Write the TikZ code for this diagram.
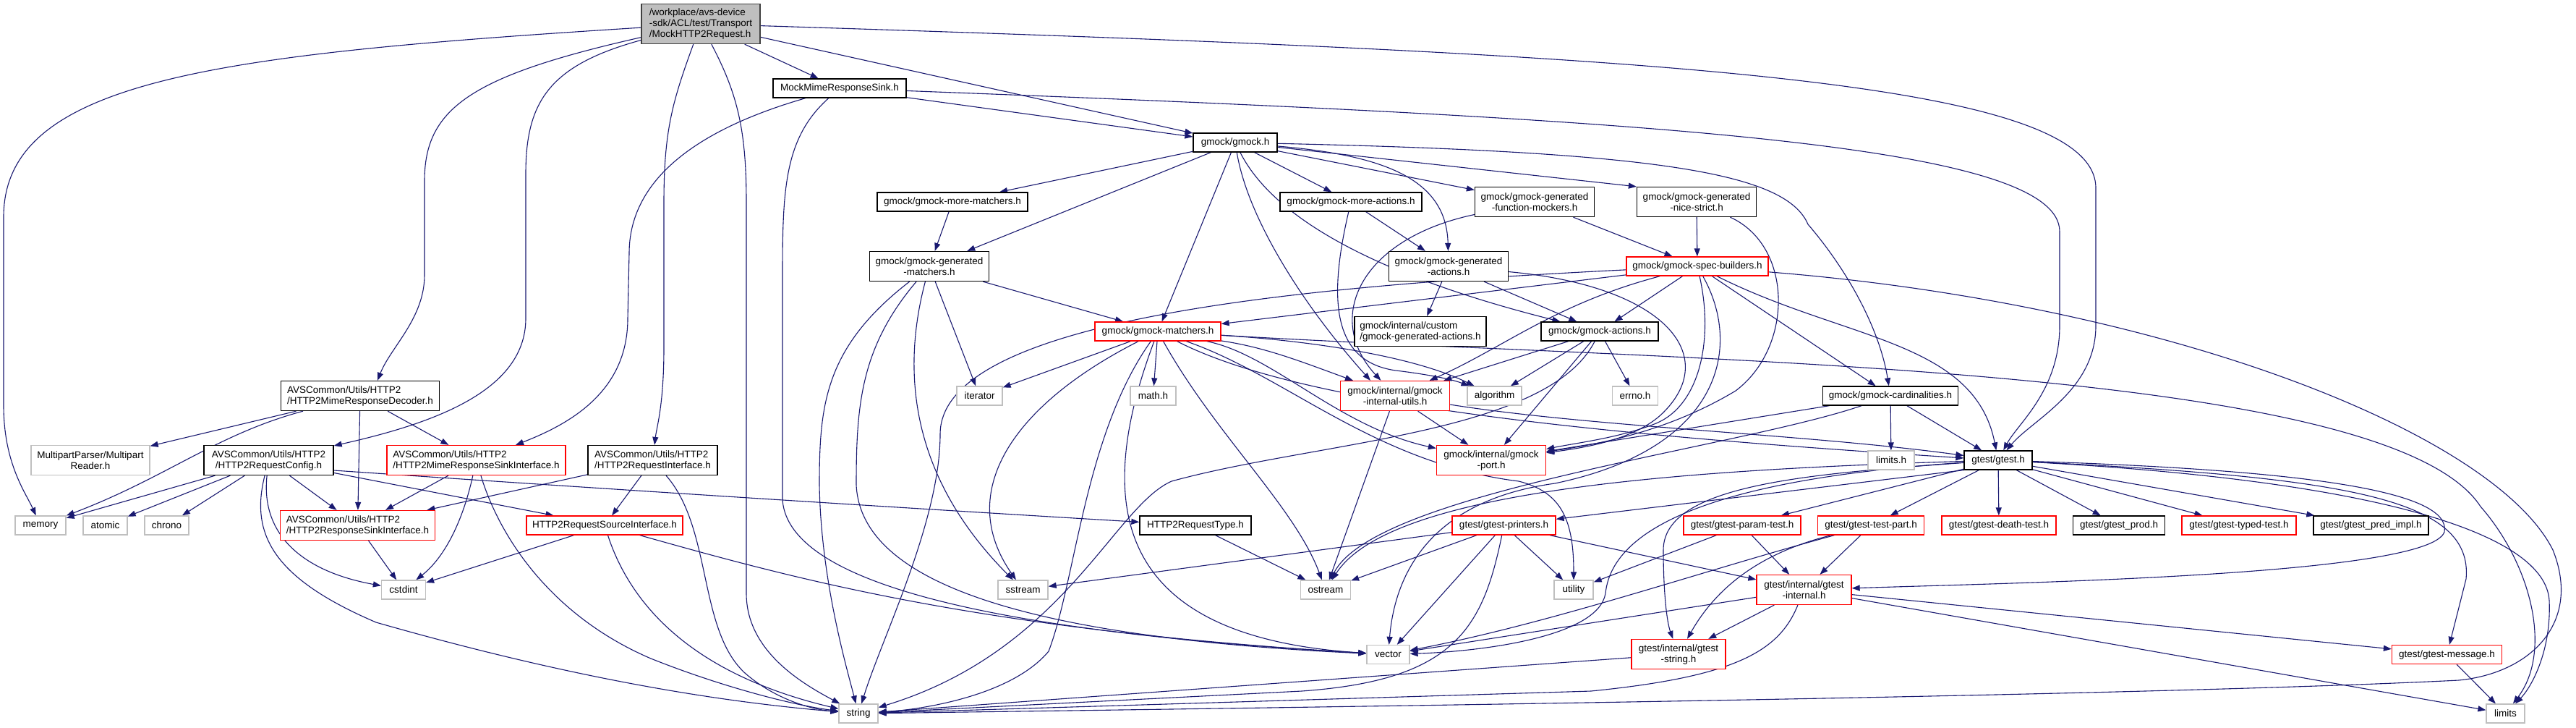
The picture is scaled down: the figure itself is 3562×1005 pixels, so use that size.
\documentclass[tikz,border=0pt]{standalone}
\usepackage{fontspec}
\setmainfont{Liberation Sans}
\usetikzlibrary{arrows.meta, positioning, backgrounds}
\definecolor{EdgeBlue}{RGB}{25,25,112}
\definecolor{RootGrey}{RGB}{191,191,191}
\definecolor{SysGrey}{RGB}{191,191,191}

\begin{document}
\begin{tikzpicture}[x=1pt, y=-1pt,
    hdr/.style={draw=black, fill=white, line width=1.3pt, align=center,
                font=\fontsize{13.5}{15}\selectfont, inner xsep=5pt, inner ysep=2pt,
                minimum height=26pt, minimum width=#1},
    hdr/.default=50pt,
    redhdr/.style={hdr=#1, draw=red},
    redhdr/.default=50pt,
    syshdr/.style={hdr=#1, draw=SysGrey},
    syshdr/.default=50pt,
    two/.style={minimum height=41pt},
    rootbox/.style={hdr=164pt, fill=RootGrey, draw=black!75, minimum height=55pt, align=left},
    dep/.style={draw=EdgeBlue, line width=1.1pt, -{Triangle[length=11pt,width=8pt]}}
  ]
  \useasboundingbox (0,0) rectangle (3562,1005);

  % headers, top to bottom
  \node[rootbox] (root) at (969,33) {/workplace/avs-device\\-sdk/ACL/test/Transport\\/MockHTTP2Request.h};
  \node[hdr=184pt] (sink) at (1161,122) {MockMimeResponseSink.h};
  \node[hdr=116pt] (gmock) at (1708,197) {gmock/gmock.h};
  \node[hdr=208pt] (moremat) at (1317,279) {gmock/gmock-more-matchers.h};
  \node[hdr=196pt] (moreact) at (1868,279) {gmock/gmock-more-actions.h};
  \node[hdr=165pt, two] (funcmock) at (2122,279) {gmock/gmock-generated\\-function-mockers.h};
  \node[hdr=165pt, two] (nicestrict) at (2346,279) {gmock/gmock-generated\\-nice-strict.h};
  \node[hdr=165pt, two] (genmat) at (1285,368) {gmock/gmock-generated\\-matchers.h};
  \node[hdr=165pt, two] (genact) at (2003,368) {gmock/gmock-generated\\-actions.h};
  \node[redhdr=196pt] (spec) at (2347,368) {gmock/gmock-spec-builders.h};
  \node[redhdr=174pt] (matchers) at (1601,458) {gmock/gmock-matchers.h};
  \node[hdr=182pt, two, align=left] (custom) at (1964,458) {gmock/internal/custom\\/gmock-generated-actions.h};
  \node[hdr=162pt] (actions) at (2212,458) {gmock/gmock-actions.h};
  \node[hdr=219pt, two, align=left] (decoder) at (498,547) {AVSCommon/Utils/HTTP2\\/HTTP2MimeResponseDecoder.h};
  \node[syshdr=63pt] (iterator) at (1354.5,547) {iterator};
  \node[syshdr=63pt] (mathh) at (1594.5,547) {math.h};
  \node[redhdr=151pt, two] (intutils) at (1929,547) {gmock/internal/gmock\\-internal-utils.h};
  \node[syshdr=75pt] (algorithm) at (2066.5,547) {algorithm};
  \node[syshdr=63pt] (errno) at (2261,547) {errno.h};
  \node[hdr=187pt] (card) at (2614,547) {gmock/gmock-cardinalities.h};
  \node[syshdr=164pt, two] (multipart) at (125,636) {MultipartParser/Multipart\\Reader.h};
  \node[hdr=179pt, two] (reqconfig) at (371.5,636) {AVSCommon/Utils/HTTP2\\/HTTP2RequestConfig.h};
  \node[redhdr=247pt, two, align=left] (mimesink) at (658.5,636) {AVSCommon/Utils/HTTP2\\/HTTP2MimeResponseSinkInterface.h};
  \node[hdr=179pt, two, align=left] (reqiface) at (902.5,636) {AVSCommon/Utils/HTTP2\\/HTTP2RequestInterface.h};
  \node[redhdr=151pt, two] (port) at (2062,636) {gmock/internal/gmock\\-port.h};
  \node[syshdr=64pt] (limitsh) at (2615,636) {limits.h};
  \node[hdr=94pt] (gtest) at (2763,636) {gtest/gtest.h};
  \node[syshdr=70pt] (memory) at (56,726) {memory};
  \node[syshdr=61pt] (atomic) at (145.5,726) {atomic};
  \node[syshdr=61pt] (chrono) at (230.5,726) {chrono};
  \node[redhdr=214pt, two, align=left] (respsink) at (494.5,726) {AVSCommon/Utils/HTTP2\\/HTTP2ResponseSinkInterface.h};
  \node[redhdr=216pt] (srciface) at (836,726) {HTTP2RequestSourceInterface.h};
  \node[hdr=154pt] (reqtype) at (1653,726) {HTTP2RequestType.h};
  \node[redhdr=143pt] (printers) at (2079.5,726) {gtest/gtest-printers.h};
  \node[redhdr=162pt] (paramtest) at (2409,726) {gtest/gtest-param-test.h};
  \node[redhdr=147pt] (testpart) at (2587,726) {gtest/gtest-test-part.h};
  \node[redhdr=158pt] (deathtest) at (2764,726) {gtest/gtest-death-test.h};
  \node[hdr=127pt] (prod) at (2930,726) {gtest/gtest\_prod.h};
  \node[redhdr=158pt] (typedtest) at (3096,726) {gtest/gtest-typed-test.h};
  \node[hdr=159pt] (predimpl) at (3278.5,726) {gtest/gtest\_pred\_impl.h};
  \node[syshdr=61pt] (cstdint) at (558,815) {cstdint};
  \node[syshdr=69pt] (sstream) at (1414.5,815) {sstream};
  \node[syshdr=69pt] (ostream) at (1833,815) {ostream};
  \node[syshdr=54pt] (utility) at (2176,815) {utility};
  \node[redhdr=131pt, two] (gtinternal) at (2494.5,815) {gtest/internal/gtest\\-internal.h};
  \node[syshdr=59pt] (vector) at (1919.5,904.5) {vector};
  \node[redhdr=130pt, two] (gtstring) at (2321,904) {gtest/internal/gtest\\-string.h};
  \node[redhdr=152pt] (message) at (3383.5,904.5) {gtest/gtest-message.h};
  \node[syshdr=54pt] (string) at (1187,986) {string};
  \node[syshdr=53pt] (limits) at (3464.5,986) {limits};

  \begin{scope}[on background layer]
  % MockHTTP2Request.h
  \draw[dep] (root) .. controls (300,75) and (5,110) .. (5,300) -- (5,560) .. controls (5,640) and (35,680) .. (memory);
  \draw[dep] (root) .. controls (650,105) and (587,150) .. (587,250) -- (587,380) .. controls (587,440) and (540,480) .. ([xshift=24pt]decoder.north);
  \draw[dep] (root) .. controls (760,90) and (727,140) .. (727,240) -- (727,440) .. controls (727,540) and (600,585) .. (reqconfig);
  \draw[dep] (root) .. controls (930,140) and (918,180) .. (918,280) -- (918,480) .. controls (918,560) and (908,590) .. (reqiface);
  \draw[dep] (root) .. controls (1020,130) and (1032,180) .. (1032,280) -- (1032,820) .. controls (1032,900) and (1110,945) .. (string);
  \draw[dep] (root) -- (sink);
  \draw[dep] (root) -- (gmock);
  \draw[dep] (root) .. controls (2300,75) and (2898,110) .. (2898,260) -- (2898,450) .. controls (2898,540) and (2810,580) .. (gtest);

  % MockMimeResponseSink.h
  \draw[dep] (sink) .. controls (960,180) and (870,250) .. (870,350) -- (868,440) .. controls (868,540) and (790,585) .. (mimesink);
  \draw[dep] (sink) .. controls (1085,190) and (1082,260) .. (1082,380) -- (1082,690) .. controls (1090,830) and (1500,880) .. (vector);
  \draw[dep] (sink) -- (gmock);
  \draw[dep] (sink) .. controls (2300,165) and (2848,200) .. (2848,320) -- (2848,450) .. controls (2848,540) and (2790,585) .. (gtest);

  % AVSCommon headers
  \draw[dep] (decoder) -- (multipart);
  \draw[dep] (decoder) .. controls (300,600) and (230,660) .. (memory);
  \draw[dep] (decoder) -- (mimesink);
  \draw[dep] (decoder) -- (respsink);
  \draw[dep] (reqconfig) -- (memory);
  \draw[dep] (reqconfig) -- (atomic);
  \draw[dep] (reqconfig) -- (chrono);
  \draw[dep] (reqconfig) .. controls (360,740) and (420,790) .. (cstdint);
  \draw[dep] (reqconfig) .. controls (345,740) and (380,800) .. (520,860) .. controls (800,940) and (1000,970) .. (string);
  \draw[dep] (reqconfig) -- (respsink);
  \draw[dep] (reqconfig) -- (srciface);
  \draw[dep] ([yshift=-14pt]reqconfig.east) .. controls (900,680) and (1300,705) .. (reqtype);
  \draw[dep] (mimesink) -- (respsink);
  \draw[dep] (mimesink) .. controls (640,720) and (615,770) .. (cstdint);
  \draw[dep] (mimesink) .. controls (690,740) and (760,850) .. (900,910) .. controls (1000,950) and (1100,975) .. (string);
  \draw[dep] (reqiface) -- (respsink);
  \draw[dep] (reqiface) -- (srciface);
  \draw[dep] (reqiface) .. controls (985,730) and (965,870) .. (1030,930) .. controls (1070,965) and (1120,980) .. (string);
  \draw[dep] (respsink) -- (cstdint);
  \draw[dep] (srciface) -- (cstdint);
  \draw[dep] (srciface) .. controls (870,830) and (950,930) .. (string);
  \draw[dep] (srciface) .. controls (1100,800) and (1350,870) .. (vector);
  \draw[dep] (reqtype) -- (ostream);

  % gmock/gmock.h
  \draw[dep] (gmock) -- (moremat);
  \draw[dep] (gmock) -- (genmat);
  \draw[dep] (gmock) -- (matchers);
  \draw[dep] (gmock) .. controls (1725,300) and (1800,420) .. ([xshift=-34pt]intutils.north);
  \draw[dep] (gmock) .. controls (1760,300) and (1900,380) .. (actions);
  \draw[dep] (gmock) -- (moreact);
  \draw[dep] (gmock) -- (funcmock);
  \draw[dep] (gmock) -- (nicestrict.north west);
  \draw[dep] (gmock) .. controls (1920,215) and (2000,250) .. (genact);
  \draw[dep] (gmock) .. controls (2300,210) and (2470,240) .. (2500,310) .. controls (2560,380) and (2600,460) .. (card);

  % gmock internals
  \draw[dep] (moremat) -- (genmat);
  \draw[dep] (genmat) -- (matchers);
  \draw[dep] (genmat) -- (iterator);
  \draw[dep] (genmat) .. controls (1250,500) and (1250,650) .. (sstream);
  \draw[dep] (genmat) .. controls (1140,480) and (1133,560) .. (1133,670) .. controls (1135,800) and (1170,920) .. (string);
  \draw[dep] (genmat) .. controls (1190,480) and (1184,560) .. (1184,670) .. controls (1190,800) and (1400,880) .. (vector);
  \draw[dep] (moreact) -- (genact);
  \draw[dep] (moreact) .. controls (1835,420) and (1845,500) .. (1930,512) .. controls (1980,518) and (2010,525) .. (algorithm);
  \draw[dep] (funcmock) -- (spec);
  \draw[dep] (funcmock) .. controls (1880,330) and (1830,440) .. (intutils);
  \draw[dep] (nicestrict) -- (spec);
  \draw[dep] (nicestrict) .. controls (2480,340) and (2480,480) .. (2400,540) .. controls (2300,600) and (2200,615) .. (port);
  \draw[dep] (genact) -- (custom);
  \draw[dep] (genact) -- (actions);
  \draw[dep] (genact) .. controls (2300,395) and (2380,490) .. (2300,570) .. controls (2260,610) and (2180,620) .. (port);
  \draw[dep] (spec) -- (matchers);
  \draw[dep] (spec) .. controls (1800,395) and (1300,440) .. (1300,600) .. controls (1300,720) and (1220,880) .. (string);
  \draw[dep] (spec) .. controls (2150,420) and (2080,480) .. (intutils);
  \draw[dep] (spec) -- (actions);
  \draw[dep] (spec) .. controls (2370,470) and (2350,560) .. (2290,585) .. controls (2240,605) and (2180,612) .. (port);
  \draw[dep] (spec) .. controls (2410,480) and (2380,620) .. (2150,668) .. controls (1990,690) and (1930,780) .. (vector);
  \draw[dep] (spec) -- (card);
  \draw[dep] (spec) .. controls (2550,470) and (2730,470) .. (gtest);
  \draw[dep] (spec) .. controls (3000,420) and (3450,600) .. (3530,760) .. controls (3570,860) and (3500,930) .. (3400,940) .. controls (3000,960) and (2000,975) .. (string);
  \draw[dep] (matchers) -- (iterator);
  \draw[dep] (matchers) -- (mathh);
  \draw[dep] (matchers) .. controls (1800,470) and (1950,490) .. (algorithm);
  \draw[dep] (matchers) .. controls (1750,480) and (1800,500) .. (intutils);
  \draw[dep] (matchers) .. controls (1760,490) and (1850,590) .. (port);
  \draw[dep] (matchers) .. controls (1800,560) and (2200,600) .. (gtest);
  \draw[dep] (matchers) .. controls (1400,560) and (1320,680) .. (sstream);
  \draw[dep] (matchers) .. controls (1500,600) and (1488,800) .. (1450,900) .. controls (1400,960) and (1280,980) .. (string);
  \draw[dep] (matchers) .. controls (1510,700) and (1540,880) .. (vector);
  \draw[dep] (matchers) .. controls (1680,600) and (1790,700) .. (ostream);
  \draw[dep] (matchers) .. controls (1780,520) and (1900,640) .. (2100,665) .. controls (2160,680) and (2176,720) .. (utility);
  \draw[dep] (matchers) .. controls (2300,500) and (3300,500) .. (3430,700) .. controls (3500,780) and (3530,900) .. (limits);
  \draw[dep] (actions) -- (intutils);
  \draw[dep] (actions) -- (algorithm);
  \draw[dep] (actions) -- (errno);
  \draw[dep] (actions) -- (port);
  \draw[dep] (actions) .. controls (2140,600) and (1820,610) .. (1620,665) .. controls (1540,700) and (1470,900) .. (string);
  \draw[dep] (card) -- (limitsh);
  \draw[dep] (card) -- (port);
  \draw[dep] (card) .. controls (2400,620) and (1900,680) .. (ostream);
  \draw[dep] (card) -- (gtest);
  \draw[dep] (intutils) -- (port);
  \draw[dep] (intutils) -- (ostream);
  \draw[dep] (intutils) .. controls (2200,590) and (2500,600) .. (gtest);

  % gtest/gtest.h
  \draw[dep] (gtest.south west) -- (printers);
  \draw[dep] (gtest) -- (paramtest);
  \draw[dep] (gtest) -- (testpart);
  \draw[dep] (gtest) -- (deathtest);
  \draw[dep] (gtest) -- (prod);
  \draw[dep] (gtest) -- (typedtest);
  \draw[dep] (gtest) -- (predimpl);
  \draw[dep] (gtest) .. controls (2300,650) and (1920,680) .. (ostream);
  \draw[dep] (gtest) .. controls (2400,660) and (2230,720) .. (2220,820) .. controls (2210,880) and (2050,900) .. (vector);
  \draw[dep] (gtest) .. controls (2500,655) and (2300,670) .. (2300,760) .. controls (2300,820) and (2305,860) .. (gtstring);
  \draw[dep] (gtest) .. controls (3200,650) and (3390,680) .. (3380,735) .. controls (3360,795) and (2800,805) .. (gtinternal);
  \draw[dep] (gtest) .. controls (3250,660) and (3420,690) .. (3410,800) -- (message);
  \draw[dep] (gtest) .. controls (3300,665) and (3520,740) .. (3525,830) .. controls (3528,900) and (3500,950) .. (limits);

  % gtest internals
  \draw[dep] (printers) -- (ostream);
  \draw[dep] (printers) -- (sstream);
  \draw[dep] (printers) .. controls (2050,870) and (2010,940) .. (1800,955) -- (string);
  \draw[dep] (printers) -- (utility);
  \draw[dep] (printers) -- (vector);
  \draw[dep] (printers) -- (gtinternal);
  \draw[dep] (paramtest) -- (utility);
  \draw[dep] (paramtest) -- (gtinternal);
  \draw[dep] (testpart) -- (gtinternal);
  \draw[dep] (testpart) .. controls (2450,760) and (2380,800) .. (gtstring);
  \draw[dep] (testpart) .. controls (2350,790) and (2150,860) .. (vector);
  \draw[dep] (gtinternal) -- (vector);
  \draw[dep] (gtinternal) -- (gtstring);
  \draw[dep] (gtinternal) .. controls (2460,900) and (2400,935) .. (2200,955) -- (string);
  \draw[dep] (gtinternal) -- (message);
  \draw[dep] (gtinternal) -- (limits);
  \draw[dep] (gtstring) -- (string);
  \draw[dep] (message) -- (limits);
  \end{scope}
\end{tikzpicture}
\end{document}
